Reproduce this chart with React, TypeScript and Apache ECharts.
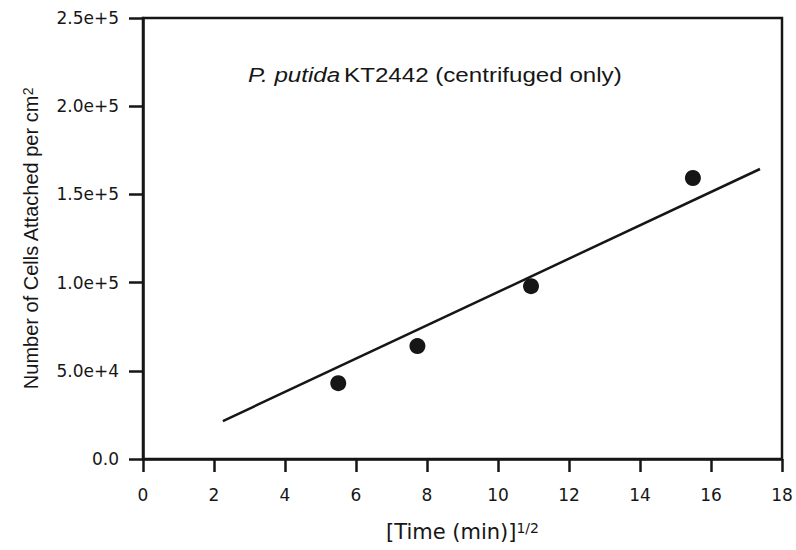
import React, { useEffect, useRef } from "react";
import * as echarts from "echarts";

const xValues = [5.5, 7.73, 10.93, 15.49];
const yValues = [43000, 64000, 98000, 159300];
const fitX = [2.25, 17.38];
const fitY = [21500, 164400];
const annotationItalic = "P. putida";
const annotationRest = "KT2442 (centrifuged only)";

export default function App() {
  const ref = useRef<HTMLDivElement>(null);
  useEffect(() => {
    const chart = echarts.init(ref.current!, null, { renderer: "svg" });
    const font = "'Liberation Sans', Arial, sans-serif";
    const wide = "'DejaVu Sans', sans-serif";
    const ink = "#161616";
    chart.setOption({
      animation: false,
      backgroundColor: "#fff",
      textStyle: { fontFamily: font, color: ink },
      grid: { left: 143, right: 14, top: 18, bottom: 91, show: true, borderColor: ink, borderWidth: 2.5 },
      xAxis: {
        type: "value",
        min: 0,
        max: 18,
        interval: 2,
        splitLine: { show: false },
        axisLine: { lineStyle: { color: ink, width: 2.5 } },
        axisTick: { length: 13, lineStyle: { color: ink, width: 2.5 } },
        axisLabel: { fontSize: 17, color: ink, margin: 27, fontFamily: wide },
        name: "{n|[Time (min)]}{s|1/2}",
        nameLocation: "middle",
        nameGap: 62,
        nameTextStyle: {
          fontFamily: wide,
          rich: {
            n: { fontSize: 21, color: ink, fontFamily: wide, verticalAlign: "bottom" },
            s: { fontSize: 14, color: ink, fontFamily: wide, verticalAlign: "top" },
          },
        },
      },
      yAxis: {
        type: "value",
        min: 0,
        max: 250000,
        interval: 50000,
        splitLine: { show: false },
        axisLine: { lineStyle: { color: ink, width: 2.5 } },
        axisTick: { length: 14, lineStyle: { color: ink, width: 2.5 } },
        axisLabel: {
          fontSize: 17,
          color: ink,
          margin: 24,
          fontFamily: wide,
          formatter: (v: number) => {
            if (v === 0) return "0.0";
            const e = Math.floor(Math.log10(v));
            const m = v / Math.pow(10, e);
            return m.toFixed(1) + "e+" + e;
          },
        },
        name: "{n|Number of Cells Attached per cm}{s|2}",
        nameLocation: "middle",
        nameGap: 102,
        nameRotate: 90,
        nameTextStyle: {
          fontFamily: font,
          rich: {
            n: { fontSize: 20, color: ink, fontFamily: font, verticalAlign: "bottom" },
            s: { fontSize: 14, color: ink, fontFamily: font, verticalAlign: "top" },
          },
        },
      },
      graphic: [
        {
          type: "text",
          x: 248,
          y: 75,
          scaleX: 1.15,
          style: {
            text: "{i|" + annotationItalic + "} {n|" + annotationRest + "}",
            verticalAlign: "middle",
            rich: {
              i: { fontSize: 21, fontStyle: "italic", fontFamily: font, fill: ink },
              n: { fontSize: 21, fontFamily: font, fill: ink },
            },
          },
        },
      ],
      series: [
        {
          type: "scatter",
          data: xValues.map((x, i) => [x, yValues[i]]),
          symbol: "circle",
          symbolSize: 16,
          itemStyle: { color: ink, opacity: 1 },
        },
        {
          type: "line",
          data: fitX.map((x, i) => [x, fitY[i]]),
          symbol: "none",
          lineStyle: { color: ink, width: 2.5 },
        },
      ],
    });
    return () => chart.dispose();
  }, []);
  return <div ref={ref} style={{ width: 796, height: 550, position: "absolute", left: 0, top: 0 }} />;
}
